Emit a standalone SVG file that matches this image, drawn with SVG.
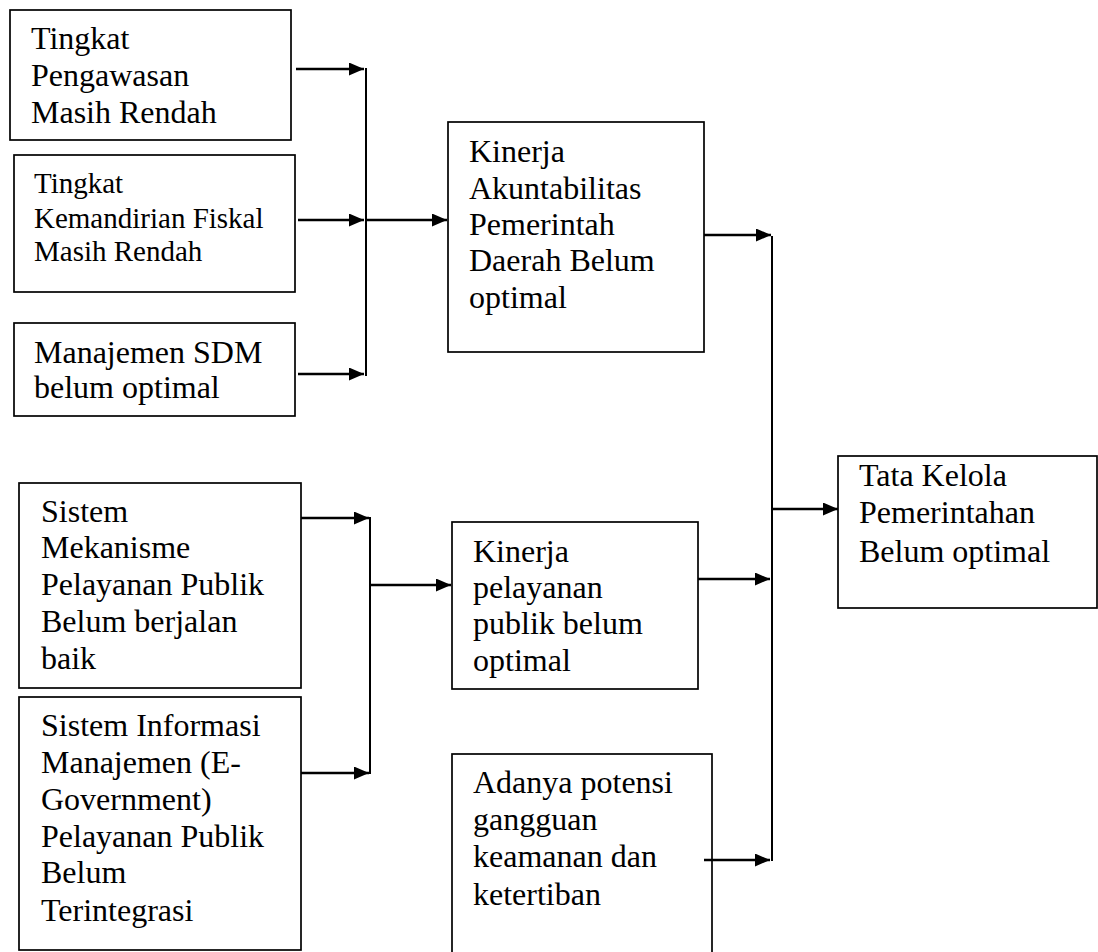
<svg xmlns="http://www.w3.org/2000/svg" width="1098" height="952" viewBox="0 0 1098 952">
<defs>
<style>
.box{fill:#fff;stroke:#000;stroke-width:1.7}
.t{font-family:'Liberation Serif','Times New Roman',Times,serif;font-size:32px;fill:#000}
.s{font-size:29px}
.c{fill:none;stroke:#000;stroke-width:2.6}
.v{fill:none;stroke:#000;stroke-width:2}
</style>
<marker id="ah" viewBox="0 0 15 13" refX="15" refY="6.5" markerWidth="15" markerHeight="13" markerUnits="userSpaceOnUse" orient="auto">
<path d="M0,0 L15,6.5 L0,13 z" fill="#000"/>
</marker>
</defs>
<rect width="1098" height="952" fill="#fff"/>
<g id="n1"><rect class="box" x="10" y="10" width="281" height="130"/>
<text class="t"><tspan x="31" y="49">Tingkat</tspan><tspan x="31" y="86">Pengawasan</tspan><tspan x="31" y="123">Masih Rendah</tspan></text></g>
<g id="n2"><rect class="box" x="14" y="155" width="281" height="137"/>
<text class="t s"><tspan x="34" y="193">Tingkat</tspan><tspan x="34" y="228">Kemandirian Fiskal</tspan><tspan x="34" y="261">Masih Rendah</tspan></text></g>
<g id="n3"><rect class="box" x="14" y="323" width="281" height="93"/>
<text class="t"><tspan x="34" y="363">Manajemen SDM</tspan><tspan x="34" y="398">belum optimal</tspan></text></g>
<g id="n4"><rect class="box" x="448" y="122" width="256" height="230"/>
<text class="t"><tspan x="469" y="162">Kinerja</tspan><tspan x="469" y="199">Akuntabilitas</tspan><tspan x="469" y="235">Pemerintah</tspan><tspan x="469" y="271">Daerah Belum</tspan><tspan x="469" y="308">optimal</tspan></text></g>
<g id="n5"><rect class="box" x="19" y="483" width="282" height="205"/>
<text class="t"><tspan x="41" y="522">Sistem</tspan><tspan x="41" y="558">Mekanisme</tspan><tspan x="41" y="595">Pelayanan Publik</tspan><tspan x="41" y="632">Belum berjalan</tspan><tspan x="41" y="669">baik</tspan></text></g>
<g id="n6"><rect class="box" x="19" y="697" width="282" height="253"/>
<text class="t"><tspan x="41" y="736">Sistem Informasi</tspan><tspan x="41" y="773">Manajemen (E-</tspan><tspan x="41" y="810">Government)</tspan><tspan x="41" y="847">Pelayanan Publik</tspan><tspan x="41" y="883">Belum</tspan><tspan x="41" y="921">Terintegrasi</tspan></text></g>
<g id="n7"><rect class="box" x="452" y="522" width="246" height="167"/>
<text class="t"><tspan x="473" y="562">Kinerja</tspan><tspan x="473" y="598">pelayanan</tspan><tspan x="473" y="634">publik belum</tspan><tspan x="473" y="671">optimal</tspan></text></g>
<g id="n8"><rect class="box" x="452" y="754" width="260" height="210"/>
<text class="t"><tspan x="473" y="793">Adanya potensi</tspan><tspan x="473" y="830">gangguan</tspan><tspan x="473" y="867">keamanan dan</tspan><tspan x="473" y="905">ketertiban</tspan></text></g>
<g id="n9"><rect class="box" x="838" y="456" width="259" height="152"/>
<text class="t"><tspan x="859" y="486">Tata Kelola</tspan><tspan x="859" y="523">Pemerintahan</tspan><tspan x="859" y="562">Belum optimal</tspan></text></g>
<g id="connectors">
<path class="c" d="M296,69 H364" marker-end="url(#ah)"/>
<path class="c" d="M298,220 H364" marker-end="url(#ah)"/>
<path class="c" d="M298,374 H364" marker-end="url(#ah)"/>
<path class="v" d="M366,68 V376"/>
<path class="c" d="M366,220 H447" marker-end="url(#ah)"/>
<path class="c" d="M704,235 H771" marker-end="url(#ah)"/>
<path class="v" d="M772,236 V861"/>
<path class="c" d="M772,509 H838" marker-end="url(#ah)"/>
<path class="c" d="M698,579 H770" marker-end="url(#ah)"/>
<path class="c" d="M704,860 H770" marker-end="url(#ah)"/>
<path class="c" d="M301,518 H369" marker-end="url(#ah)"/>
<path class="c" d="M301,773 H369" marker-end="url(#ah)"/>
<path class="v" d="M370,517 V774"/>
<path class="c" d="M370,585 H451" marker-end="url(#ah)"/>
</g>
</svg>
